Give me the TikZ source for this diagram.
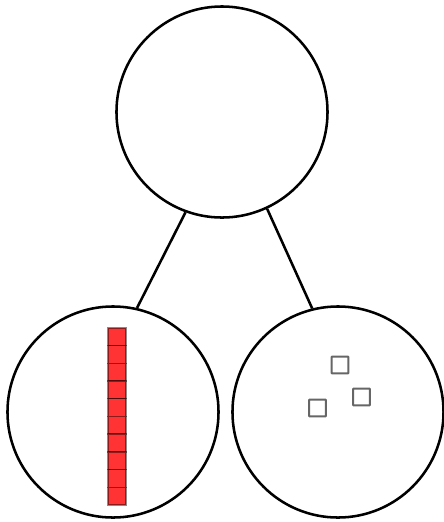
\documentclass[tikz,border=0pt]{standalone}
\usepackage{tikz}
\definecolor{cellred}{RGB}{255,51,51}
\tikzstyle{bignode}=[draw,%
                     circle,%
                     line width    = 1.8pt,%
                     inner sep     = 0pt,%
                     minimum size  = 5.275cm]
\tikzstyle{cell}=[draw=black,draw opacity=0.45,fill=cellred,rectangle,line width=1pt,inner sep=0pt,minimum width=0.44cm,minimum height=0.4425cm]
\tikzstyle{token}=[draw=black!60,rectangle,rounded corners=0.5pt,line width=1.5pt,inner sep=0pt,minimum size=0.42cm]
\begin{document}
\begin{tikzpicture}[x=0.025cm,y=-0.025cm]
            \useasboundingbox (0,0) rectangle (444,522);
            \node[bignode] (top)   at (222,112) {};
            \node[bignode] (left)  at (113,412) {};
            \node[bignode] (right) at (338,412) {};
            \draw [line width=1.8pt] (top.250) -- (left.77);
            \draw [line width=1.8pt] (top.295) -- (right.104);
            % red column of ten cells
            \foreach \i in {0,...,9}
              \node[cell] (c\i) at (117,{336.8+17.7*\i}) {};
            % three loose tokens
            \node[token] (t1) at (340,365) {};
            \node[token] (t2) at (361.5,397) {};
            \node[token] (t3) at (317.5,408) {};
  \end{tikzpicture}
\end{document}
